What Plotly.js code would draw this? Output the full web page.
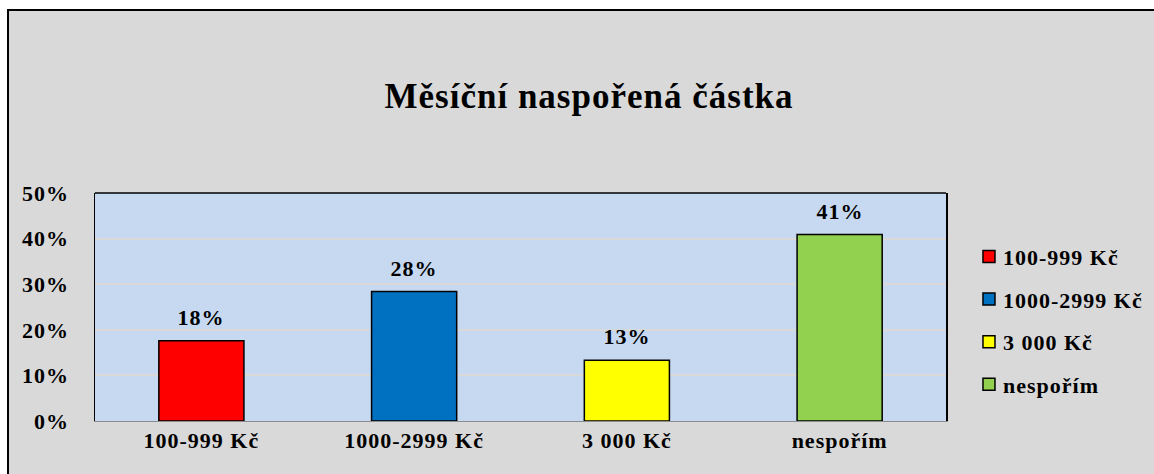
<!DOCTYPE html>
<html>
<head>
<meta charset="utf-8">
<script src="https://cdn.plot.ly/plotly-3.0.1.min.js"></script>
<style>
html,body{margin:0;padding:0;background:#fff;overflow:hidden;width:1154px;height:474px;}
#frame{position:absolute;left:7px;top:9px;border:2px solid #000;width:1160px;height:480px;background:#d9d9d9;}
#chart{width:1160px;height:480px;}
#chart svg text{letter-spacing:1px;}
#chart svg .legend .scrollbox, #chart svg .legend{clip-path:none !important;}
#chart svg .legend text.legendtext{transform:translateX(-6px);}
</style>
</head>
<body>
<div id="frame"><div id="chart"></div></div>
<script>
const chartTitle = "Měsíční naspořená částka";
const categories = ["100-999 Kč", "1000-2999 Kč", "3 000 Kč", "nespořím"];
const values = [0.176, 0.284, 0.133, 0.409];
const colors = ["#ff0000", "#0070c0", "#ffff00", "#92d050"];
const yTicks = [0, 0.1, 0.2, 0.3, 0.4, 0.5];

const FONT = "Liberation Serif, Times New Roman, serif";
const traces = categories.map((c, i) => ({
  type: "bar",
  x: [c],
  y: [values[i]],
  name: c,
  legendgroup: "g" + i,
  width: 0.4,
  marker: {color: colors[i], line: {color: "#000", width: 1.5}},
  hoverinfo: "skip"
}));

const annotations = categories.map((c, i) => ({
  x: c, y: values[i], xref: "x", yref: "y",
  text: Math.round(values[i] * 100) + "%",
  showarrow: false, yanchor: "bottom", yshift: 9,
  font: {family: FONT, size: 22, color: "#000", weight: "bold"}
}));

const layout = {
  width: 1160, height: 480,
  paper_bgcolor: "#d9d9d9",
  plot_bgcolor: "#c6d9f0",
  margin: {l: 86, r: 223, t: 182, b: 70},
  barmode: "overlay",
  showlegend: true,
  title: {text: chartTitle, x: 0.5, xanchor: "center", y: 0.823, yanchor: "middle", yref: "container",
          font: {family: FONT, size: 35, color: "#000", weight: "bold"}},
  font: {family: FONT, size: 22, color: "#000", weight: "bold"},
  xaxis: {type: "category", showgrid: false, showline: true, linecolor: "#8c8c8c", linewidth: 1,
          ticks: "", tickfont: {family: FONT, size: 22, weight: "bold"}, fixedrange: true},
  yaxis: {range: [0, 0.5], tickvals: yTicks, tickformat: ".0%", showgrid: true, gridcolor: "#d9d9d9", gridwidth: 2,
          showline: true, mirror: true, linecolor: "#000", linewidth: 1.5, zeroline: false,
          ticks: "", ticklabelstandoff: 20, tickfont: {family: FONT, size: 22, weight: "bold"}, fixedrange: true},
  legend: {x: 1.027, xanchor: "left", y: 0.44, yanchor: "middle", bgcolor: "rgba(0,0,0,0)",
           traceorder: "grouped", tracegroupgap: 11,
           font: {family: FONT, size: 22, color: "#000", weight: "bold"}},
  shapes: [{type: "line", xref: "paper", yref: "paper", x0: 0, x1: 1, y0: 1, y1: 1,
            line: {color: "#000", width: 1.5}, layer: "above"}],
  annotations: annotations
};

Plotly.newPlot("chart", traces, layout, {displayModeBar: false, staticPlot: true});
</script>
</body>
</html>
